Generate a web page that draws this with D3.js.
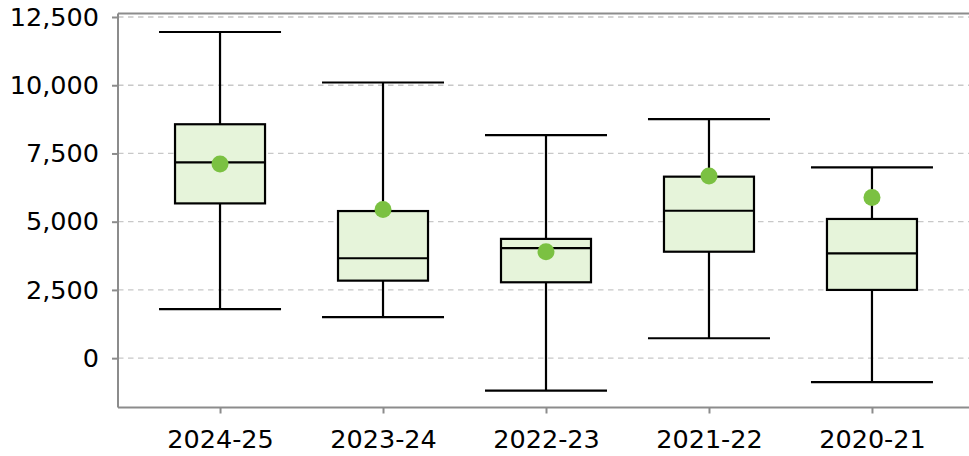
<!DOCTYPE html>
<html>
<head>
<meta charset="utf-8">
<script src="https://cdn.jsdelivr.net/npm/d3@7"></script>
<style>
  html, body { margin: 0; padding: 0; background: #fff; overflow: hidden; }
  svg { display: block; font-family: "DejaVu Sans", sans-serif; }
</style>
</head>
<body>
<svg id="chart" width="969" height="456"></svg>
<script>
const categories = ["2024-25", "2023-24", "2022-23", "2021-22", "2020-21"];
const lowValues    = [1800, 1500, -1190, 730, -880];
const q1Values     = [5670, 2840, 2780, 3900, 2500];
const medianValues = [7170, 3660, 4030, 5400, 3840];
const q3Values     = [8570, 5390, 4370, 6650, 5100];
const highValues   = [11950, 10100, 8170, 8760, 6990];
const meanValues   = [7110, 5450, 3900, 6670, 5890];
const yTicks = [0, 2500, 5000, 7500, 10000, 12500];

const data = categories.map((c, i) => ({
  cat: c, low: lowValues[i], q1: q1Values[i], med: medianValues[i],
  q3: q3Values[i], high: highValues[i], mean: meanValues[i]
}));

const svg = d3.select("#chart");
const mLeft = 118, mRight = 974, mTop = 13.5, mBottom = 407.5, edge = 969;

const x = d3.scalePoint().domain(categories).range([mLeft, mRight]).padding(0.626);
const y = d3.scaleLinear().domain([-1808, 12628]).range([mBottom, mTop]);

const fmt = d3.format(",");

svg.append("g").selectAll("line").data(yTicks).join("line")
  .attr("x1", mLeft).attr("x2", edge)
  .attr("y1", d => y(d)).attr("y2", d => y(d))
  .attr("stroke", "#c8c8c8").attr("stroke-width", 1.3)
  .attr("stroke-dasharray", "5.5,4.5");

svg.append("path").attr("d", `M${mLeft},${mTop}H${edge}`)
  .attr("fill", "none").attr("stroke", "#8c8c8c").attr("stroke-width", 2);

const capHalf = 61, boxHalf = 45;
const g = svg.append("g").selectAll("g").data(data).join("g")
  .attr("transform", d => `translate(${x(d.cat)},0)`);

const sw = 2.2;
g.append("line").attr("x1", 0).attr("x2", 0)
  .attr("y1", d => y(d.high)).attr("y2", d => y(d.low))
  .attr("stroke", "#000").attr("stroke-width", sw);
g.append("line").attr("x1", -capHalf).attr("x2", capHalf)
  .attr("y1", d => y(d.high)).attr("y2", d => y(d.high))
  .attr("stroke", "#000").attr("stroke-width", sw);
g.append("line").attr("x1", -capHalf).attr("x2", capHalf)
  .attr("y1", d => y(d.low)).attr("y2", d => y(d.low))
  .attr("stroke", "#000").attr("stroke-width", sw);
g.append("rect").attr("x", -boxHalf).attr("width", boxHalf * 2)
  .attr("y", d => y(d.q3)).attr("height", d => y(d.q1) - y(d.q3))
  .attr("fill", "#e6f4da").attr("stroke", "#000").attr("stroke-width", sw);
g.append("line").attr("x1", -boxHalf).attr("x2", boxHalf)
  .attr("y1", d => y(d.med)).attr("y2", d => y(d.med))
  .attr("stroke", "#000").attr("stroke-width", sw);
g.append("circle").attr("cx", 0).attr("cy", d => y(d.mean)).attr("r", 8.5)
  .attr("fill", "#7bc142");

const yAxis = svg.append("g").attr("transform", `translate(${mLeft},0)`)
  .call(d3.axisLeft(y).tickValues(yTicks).tickFormat(fmt).tickSize(6).tickSizeOuter(0).tickPadding(13));
const xAxis = svg.append("g").attr("transform", `translate(0,${mBottom})`)
  .call(d3.axisBottom(x).tickSize(6).tickSizeOuter(0).tickPadding(16));

[yAxis, xAxis].forEach(ax => {
  ax.select(".domain").attr("stroke", "#8c8c8c").attr("stroke-width", 2);
  ax.selectAll(".tick line").attr("stroke", "#8c8c8c").attr("stroke-width", 2);
  ax.selectAll(".tick text").attr("fill", "#000")
    .style("font-family", "'DejaVu Sans', sans-serif").style("font-size", "25.5px");
});
yAxis.select(".domain").attr("d", `M0,${mTop}V${mBottom}`);
xAxis.select(".domain").attr("d", `M${mLeft},0H${edge}`);
</script>
</body>
</html>
